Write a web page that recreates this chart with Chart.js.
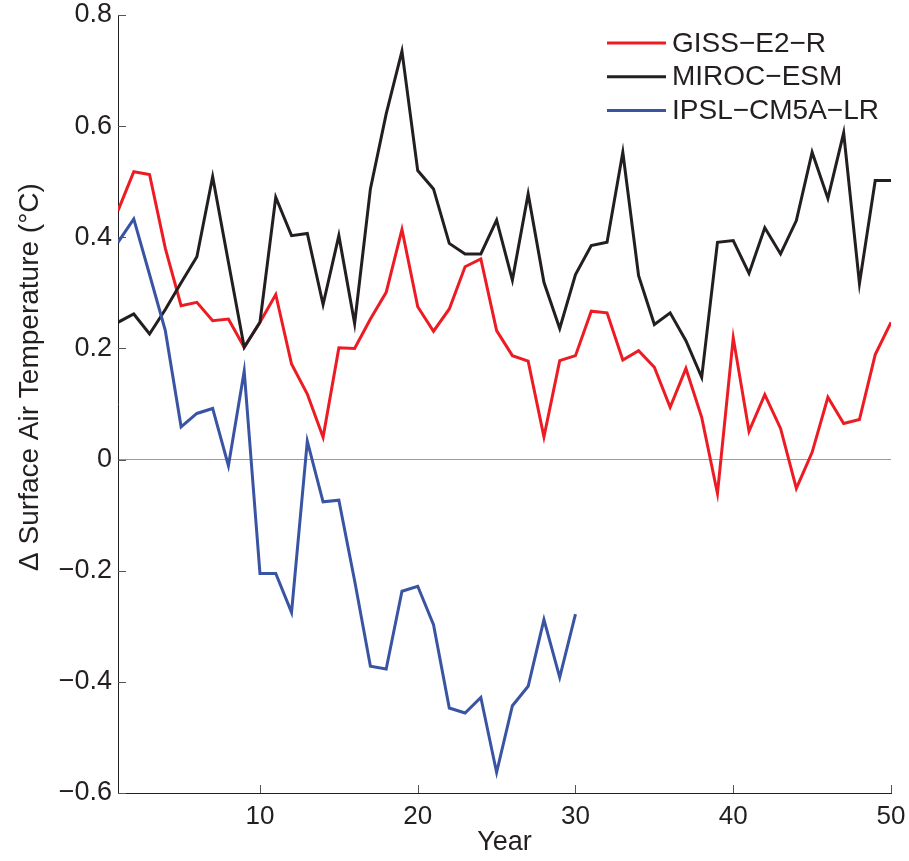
<!DOCTYPE html>
<html>
<head>
<meta charset="utf-8">
<title>Surface air temperature change</title>
<script src="https://cdn.jsdelivr.net/npm/chart.js@4.4.1/dist/chart.umd.min.js"></script>
<style>
  html, body { margin: 0; padding: 0; background: #fff; }
  #wrap { width: 909px; height: 861px; position: relative; }
</style>
</head>
<body>
<div id="wrap"><canvas id="tempChart"></canvas></div>
<script>
'use strict';

// years on the x axis
var years = [1, 2, 3, 4, 5, 6, 7, 8, 9, 10,
  11, 12, 13, 14, 15, 16, 17, 18, 19, 20,
  21, 22, 23, 24, 25, 26, 27, 28, 29, 30,
  31, 32, 33, 34, 35, 36, 37, 38, 39, 40,
  41, 42, 43, 44, 45, 46, 47, 48, 49, 50];

var seriesNames = ['GISS\u2212E2\u2212R', 'MIROC\u2212ESM', 'IPSL\u2212CM5A\u2212LR'];

var gissValues = [0.448, 0.518, 0.513, 0.380, 0.277, 0.283, 0.250, 0.253, 0.202, 0.247,
  0.297, 0.172, 0.118, 0.040, 0.201, 0.200, 0.253, 0.301, 0.414, 0.275,
  0.231, 0.271, 0.347, 0.361, 0.232, 0.187, 0.177, 0.041, 0.178, 0.187,
  0.267, 0.264, 0.179, 0.196, 0.166, 0.094, 0.164, 0.076, -0.061, 0.219,
  0.051, 0.117, 0.056, -0.052, 0.013, 0.112, 0.065, 0.072, 0.189, 0.247];

var mirocValues = [0.247, 0.262, 0.226, 0.270, 0.318, 0.365, 0.509, 0.355, 0.202, 0.247,
  0.472, 0.403, 0.407, 0.279, 0.403, 0.245, 0.487, 0.622, 0.735, 0.520,
  0.487, 0.389, 0.370, 0.370, 0.431, 0.323, 0.478, 0.319, 0.236, 0.333,
  0.385, 0.391, 0.553, 0.331, 0.243, 0.264, 0.214, 0.148, 0.391, 0.394,
  0.335, 0.417, 0.370, 0.430, 0.553, 0.470, 0.588, 0.317, 0.502, 0.502];

// IPSL run only covers the first 30 years
var ipslValues = [0.391, 0.433, 0.333, 0.232, 0.059, 0.083, 0.092, -0.011, 0.159, -0.205,
  -0.205, -0.275, 0.033, -0.076, -0.073, -0.218, -0.372, -0.377, -0.237, -0.228,
  -0.297, -0.447, -0.456, -0.428, -0.563, -0.443, -0.408, -0.288, -0.392, -0.278];

var xTickValues = [10, 20, 30, 40, 50];
var yMin = -0.6, yMax = 0.8, yStep = 0.2;

var colors = ['#ed1c24', '#231f20', '#3a54a4'];
var FONT = '"Liberation Sans", Helvetica, Arial, sans-serif';

var toPoints = function (vals) {
  return vals.map(function (v, i) {
    return { x: years[i], y: v };
  });
};

var fmtTick = function (v) {
  var r = Math.round(v * 10) / 10;
  if (r === 0) return '0';
  var s = Math.abs(r).toFixed(1);
  return r < 0 ? '\u2212' + s : s;
};

// inward tick marks, like the original plot
var innerTicks = {
  id: 'innerTicks',
  afterDatasetsDraw: function (chart) {
    var ctx = chart.ctx;
    var xs = chart.scales.x, ys = chart.scales.y;
    var area = chart.chartArea;
    ctx.save();
    ctx.strokeStyle = '#555';
    ctx.lineWidth = 1;
    ctx.beginPath();
    xs.ticks.forEach(function (t) {
      var px = Math.round(xs.getPixelForValue(t.value)) + 0.5;
      ctx.moveTo(px, area.bottom);
      ctx.lineTo(px, area.bottom - 8);
    });
    ys.ticks.forEach(function (t) {
      var py = Math.round(ys.getPixelForValue(t.value)) + 0.5;
      ctx.moveTo(area.left, py);
      ctx.lineTo(area.left + 8, py);
    });
    ctx.stroke();
    ctx.restore();
  }
};

// legend box in the upper right of the plot, plus y axis title
var sideText = {
  id: 'sideText',
  afterDraw: function (chart) {
    var ctx = chart.ctx;
    var area = chart.chartArea;
    ctx.save();

    var x0 = area.right - 284;
    chart.data.datasets.forEach(function (ds, i) {
      var y = area.top + 28 + i * 33.7;
      ctx.strokeStyle = ds.borderColor;
      ctx.lineWidth = 3;
      ctx.beginPath();
      ctx.moveTo(x0, y);
      ctx.lineTo(x0 + 59, y);
      ctx.stroke();
      ctx.fillStyle = '#231f20';
      ctx.font = '28px ' + FONT;
      ctx.textBaseline = 'middle';
      ctx.textAlign = 'left';
      ctx.fillText(ds.label, x0 + 65, y + 1);
    });

    ctx.translate(38, (area.top + area.bottom) / 2 - 27);
    ctx.rotate(-Math.PI / 2);
    ctx.fillStyle = '#231f20';
    ctx.font = '28px ' + FONT;
    ctx.textAlign = 'center';
    ctx.textBaseline = 'alphabetic';
    ctx.fillText('\u0394 Surface Air Temperature (\u00b0C)', 0, 0);
    ctx.restore();
  }
};

var datasets = [gissValues, mirocValues, ipslValues].map(function (vals, i) {
  return {
    label: seriesNames[i],
    data: toPoints(vals),
    borderColor: colors[i],
    backgroundColor: colors[i],
    borderWidth: 3,
    borderJoinStyle: 'miter',
    pointRadius: 0,
    tension: 0,
    fill: false,
    order: 3 - i
  };
});

var chart = new Chart(document.getElementById('tempChart'), {
  type: 'line',
  data: { datasets: datasets },
  options: {
    responsive: true,
    maintainAspectRatio: false,
    animation: false,
    layout: { padding: { left: 0, right: 18, top: 15, bottom: 0 } },
    plugins: {
      legend: { display: false },
      tooltip: { enabled: false }
    },
    scales: {
      x: {
        type: 'linear',
        min: 1,
        max: 50,
        afterBuildTicks: function (scale) {
          scale.ticks = xTickValues.map(function (v) { return { value: v }; });
        },
        afterFit: function (scale) {
          scale.height = 68;
          scale.paddingLeft = 0;
          scale.paddingRight = 0;
        },
        grid: { display: false, drawTicks: false },
        border: { display: true, color: '#231f20', width: 1 },
        ticks: {
          color: '#231f20',
          padding: 8,
          maxRotation: 0,
          font: { family: FONT, size: 26 }
        },
        title: {
          display: true,
          text: 'Year',
          color: '#231f20',
          padding: { top: 0, bottom: 2 },
          font: { family: FONT, size: 27 }
        }
      },
      y: {
        min: yMin,
        max: yMax,
        afterFit: function (scale) {
          scale.width = 118;
          scale.paddingTop = 0;
          scale.paddingBottom = 0;
        },
        grid: {
          drawTicks: false,
          color: function (c) {
            return (c.tick && Math.abs(c.tick.value) < 1e-9) ? '#9a9a9a' : 'rgba(0,0,0,0)';
          },
          lineWidth: 1
        },
        border: { display: true, color: '#231f20', width: 1 },
        ticks: {
          stepSize: yStep,
          color: '#231f20',
          padding: 6,
          font: { family: FONT, size: 27 },
          callback: function (v) { return fmtTick(v); }
        }
      }
    }
  },
  plugins: [innerTicks, sideText]
});
</script>
</body>
</html>
